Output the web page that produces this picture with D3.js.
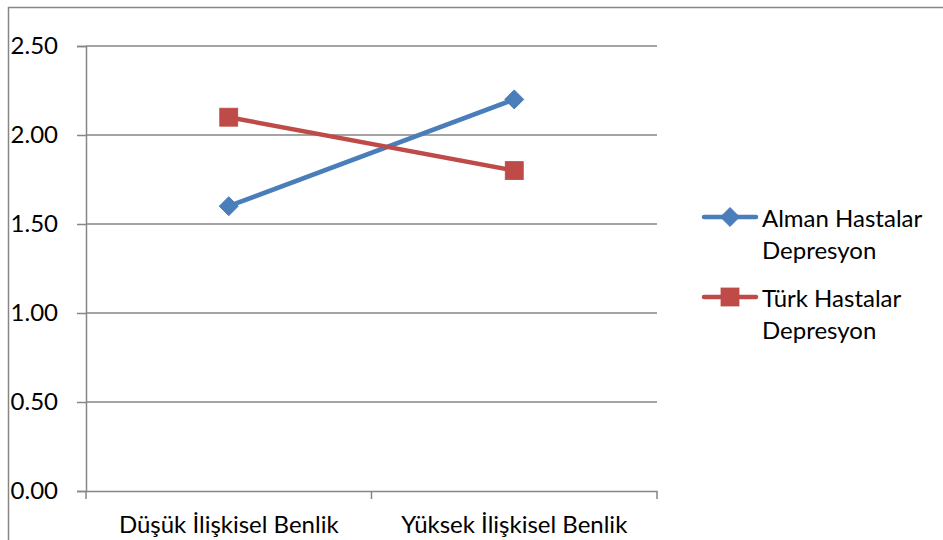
<!DOCTYPE html>
<html><head><meta charset="utf-8">
<script src="https://cdn.jsdelivr.net/npm/d3@7"></script>
<style>body{margin:0;background:#fff}svg{display:block}text{font-family:Lato,"Open Sans",sans-serif;fill:#000}</style>
</head><body><svg id="c" width="943" height="540"></svg>
<script>
const categories = ["Düşük İlişkisel Benlik", "Yüksek İlişkisel Benlik"];
const almanValues = [1.60, 2.20];
const turkValues = [2.10, 1.80];
const yTicks = [0, 0.5, 1.0, 1.5, 2.0, 2.5];
const seriesNames = [["Alman Hastalar", "Depresyon"], ["Türk Hastalar", "Depresyon"]];

const svg = d3.select("#c");
const grey = "#868686";
const FS = 24;
const L = 86, R = 657, T = 46, B = 491;
// chart border
svg.append("rect").attr("x", 8.5).attr("y", 7.5).attr("width", 1000).attr("height", 1000)
  .attr("fill", "none").attr("stroke", grey).attr("stroke-width", 1.5);

const x = d3.scaleBand().domain(categories).range([L, R]);
const y = d3.scaleLinear().domain([0, 2.5]).range([B, T]);

// gridlines
svg.append("g").selectAll("line").data(yTicks.filter(d => d > 0)).join("line")
  .attr("x1", L).attr("x2", R).attr("y1", d => y(d)).attr("y2", d => y(d))
  .attr("stroke", grey).attr("stroke-width", 1.5);

// y axis
const ya = svg.append("g").attr("transform", `translate(${L},0)`)
  .call(d3.axisLeft(y).tickValues(yTicks).tickFormat(d3.format(".2f")).tickSize(9).tickPadding(19));
ya.select(".domain").attr("stroke", grey).attr("stroke-width", 1.5);
ya.selectAll(".tick line").attr("stroke", grey).attr("stroke-width", 1.5);
ya.selectAll("text").attr("font-size", FS).attr("font-family", "Lato").attr("fill", "#000");

// x axis
const xa = svg.append("g").attr("transform", `translate(0,${B})`)
  .call(d3.axisBottom(x).tickSize(0).tickPadding(25));
xa.select(".domain").attr("stroke", grey).attr("stroke-width", 1.5);
xa.selectAll("text").attr("font-size", FS).attr("font-family", "Lato").attr("fill", "#000");
const bounds = [...categories.map(c => x(c)), x(categories[1]) + x.bandwidth()];
svg.append("g").selectAll("line").data(bounds).join("line")
  .attr("x1", d => d).attr("x2", d => d).attr("y1", B).attr("y2", B + 8)
  .attr("stroke", grey).attr("stroke-width", 1.5);

const cx = c => x(c) + x.bandwidth() / 2;
const line = d3.line().x((d, i) => cx(categories[i])).y(d => y(d));
const series = [
  {vals: almanValues, color: "#4A7EBB", shape: "diamond"},
  {vals: turkValues, color: "#BE4B48", shape: "square"}
];
const marker = (g, shape, color, px, py) => {
  if (shape === "diamond") {
    g.append("path").attr("d", d3.symbol(d3.symbolDiamond2, 230)()).attr("transform", `translate(${px},${py})`)
      .attr("fill", color).attr("stroke", color).attr("stroke-width", 1);
  } else {
    g.append("rect").attr("x", px - 9).attr("y", py - 9).attr("width", 18).attr("height", 18)
      .attr("fill", color).attr("stroke", color).attr("stroke-width", 0.8);
  }
};
series.forEach(s => {
  svg.append("path").attr("d", line(s.vals)).attr("fill", "none").attr("stroke", s.color)
    .attr("stroke-width", 4.5).attr("stroke-linecap", "round");
  s.vals.forEach((v, i) => marker(svg, s.shape, s.color, cx(categories[i]), y(v)));
});

// legend
series.forEach((s, i) => {
  const ly = 217 + i * 80;
  svg.append("line").attr("x1", 704).attr("x2", 756).attr("y1", ly).attr("y2", ly)
    .attr("stroke", s.color).attr("stroke-width", 4.5).attr("stroke-linecap", "round");
  marker(svg, s.shape, s.color, 730, ly);
  seriesNames[i].forEach((t, j) => {
    svg.append("text").attr("x", 762).attr("y", ly + 10 + j * 32).attr("font-size", FS)
      .attr("font-family", "Lato").text(t);
  });
});
</script></body></html>
